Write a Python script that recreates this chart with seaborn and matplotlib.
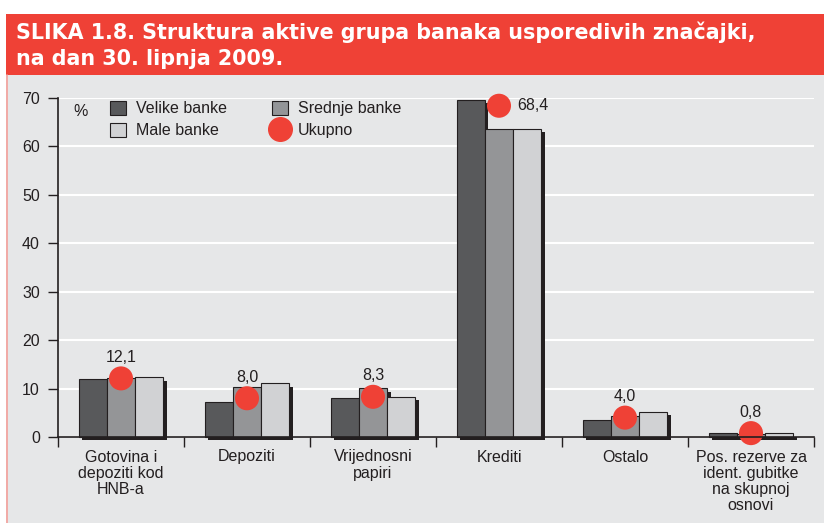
import matplotlib
matplotlib.use("Agg")
import matplotlib.pyplot as plt
import matplotlib.patheffects as pe
from matplotlib.patches import Rectangle
from matplotlib.lines import Line2D
import seaborn as sns
import pandas as pd

kategorije = ["Gotovina i\ndepoziti kod\nHNB-a", "Depoziti", "Vrijednosni\npapiri",
              "Krediti", "Ostalo", "Pos. rezerve za\nident. gubitke\nna skupnoj\nosnovi"]
velike = [12.0, 7.3, 8.0, 69.6, 3.6, 0.8]
srednje = [12.2, 10.3, 10.1, 63.5, 4.3, 0.6]
male = [12.3, 11.1, 8.3, 63.7, 5.2, 0.8]
ukupno = [12.1, 8.0, 8.3, 68.4, 4.0, 0.8]
grupe = ["Velike banke", "Srednje banke", "Male banke"]
boje = ["#58595b", "#939598", "#d1d2d4"]
crvena = "#ef4136"
tekst = "#231f20"

df = pd.DataFrame({
    "kat": kategorije * 3,
    "grupa": [g for g in grupe for _ in kategorije],
    "val": velike + srednje + male,
})

sns.set_style("white")
plt.rcParams["font.family"] = ["Liberation Sans", "DejaVu Sans"]

W, H = 824, 523
fig = plt.figure(figsize=(W / 100, H / 100), dpi=100, facecolor="white")
# grey panel + red title box
fig.add_artist(Rectangle((6 / W, 0), 1, (H - 75) / H, transform=fig.transFigure,
                         facecolor="#e6e7e8", edgecolor="none", zorder=-10))
fig.add_artist(Rectangle((6 / W, (H - 75) / H), 1, 61 / H, transform=fig.transFigure,
                         facecolor=crvena, edgecolor="none", zorder=-9))
fig.add_artist(Line2D([6.5 / W, 6.5 / W], [0, (H - 75) / H], transform=fig.transFigure,
                      color="#f4a09a", lw=1.2))
fig.text(16 / W, 1 - 39 / H, "SLIKA 1.8. Struktura aktive grupa banaka usporedivih značajki,",
         color="white", fontsize=14.9, fontweight="bold", va="baseline", family="DejaVu Sans")
fig.text(16 / W, 1 - 65 / H, "na dan 30. lipnja 2009.",
         color="white", fontsize=14.9, fontweight="bold", va="baseline", family="DejaVu Sans")

ax = fig.add_axes([58 / W, 1 - 437 / H, (814 - 58) / W, (437 - 98) / H])
ax.set_facecolor("none")

sns.barplot(data=df, x="kat", y="val", hue="grupa", palette=boje, width=0.67,
            edgecolor=tekst, linewidth=0.8, legend=False, ax=ax, zorder=3)
for p in ax.patches:
    p.set_clip_on(False)
    p.set_path_effects([pe.SimplePatchShadow(offset=(2.5, -2.5), shadow_rgbFace="#231f20", alpha=1.0),
                        pe.Normal()])

ax.scatter(range(len(kategorije)), ukupno, s=300, color=crvena, edgecolor="none",
           zorder=6, clip_on=False)
for i, v in enumerate(ukupno):
    lab = f"{v:.1f}".replace(".", ",")
    if i == 3:
        ax.annotate(lab, (i, v), xytext=(13, 0), textcoords="offset points",
                    ha="left", va="center", fontsize=11.5, color=tekst)
    else:
        ax.annotate(lab, (i, v), xytext=(0, 15), textcoords="offset points",
                    ha="center", va="center", fontsize=11.5, color=tekst)

ax.set_xlim(-0.5, 5.5)
ax.set_ylim(0, 70)
ax.set_yticks(range(0, 71, 10))
ax.yaxis.grid(True, color="white", lw=1.5, zorder=0)
ax.set_axisbelow(True)
ax.set_xticks(range(len(kategorije)))
ax.set_xticklabels(kategorije, fontsize=11.5, color=tekst, linespacing=1.1)
ax.set_xticks([x - 0.5 for x in range(len(kategorije) + 1)], minor=True)
ax.tick_params(axis="x", which="major", bottom=True, length=0, pad=9)
ax.tick_params(axis="x", which="minor", bottom=True, length=7, width=1, color=tekst,
               direction="out")
ax.tick_params(axis="y", left=True, length=7, width=1, color=tekst, pad=6,
               labelsize=11.5, labelcolor=tekst)
ax.set_xlabel("")
ax.set_ylabel("")
for s in ["top", "right"]:
    ax.spines[s].set_visible(False)
for s in ["left", "bottom"]:
    ax.spines[s].set_color(tekst)
    ax.spines[s].set_linewidth(1.2)
    ax.spines[s].set_zorder(7)

ax.text(15 / 756, 1 - 14 / 339, "%", transform=ax.transAxes, fontsize=11.5,
        color=tekst, ha="left", va="center")

handles = [
    Rectangle((0, 0), 1, 1, facecolor=boje[0], edgecolor=tekst, lw=0.8),
    Rectangle((0, 0), 1, 1, facecolor=boje[2], edgecolor=tekst, lw=0.8),
    Rectangle((0, 0), 1, 1, facecolor=boje[1], edgecolor=tekst, lw=0.8),
    Line2D([], [], marker="o", ls="none", markersize=17, color=crvena),
]
labels = [grupe[0], grupe[2], grupe[1], "Ukupno"]
leg = ax.legend(handles, labels, ncol=2, frameon=False, loc="upper left",
                bbox_to_anchor=(38 / 756, 1.035), fontsize=11.5, handlelength=1.0,
                handleheight=1.0, columnspacing=2.85, labelspacing=0.42, handletextpad=0.6)
for t in leg.get_texts():
    t.set_color(tekst)

fig.savefig("out.png", dpi=100, facecolor=fig.get_facecolor())
